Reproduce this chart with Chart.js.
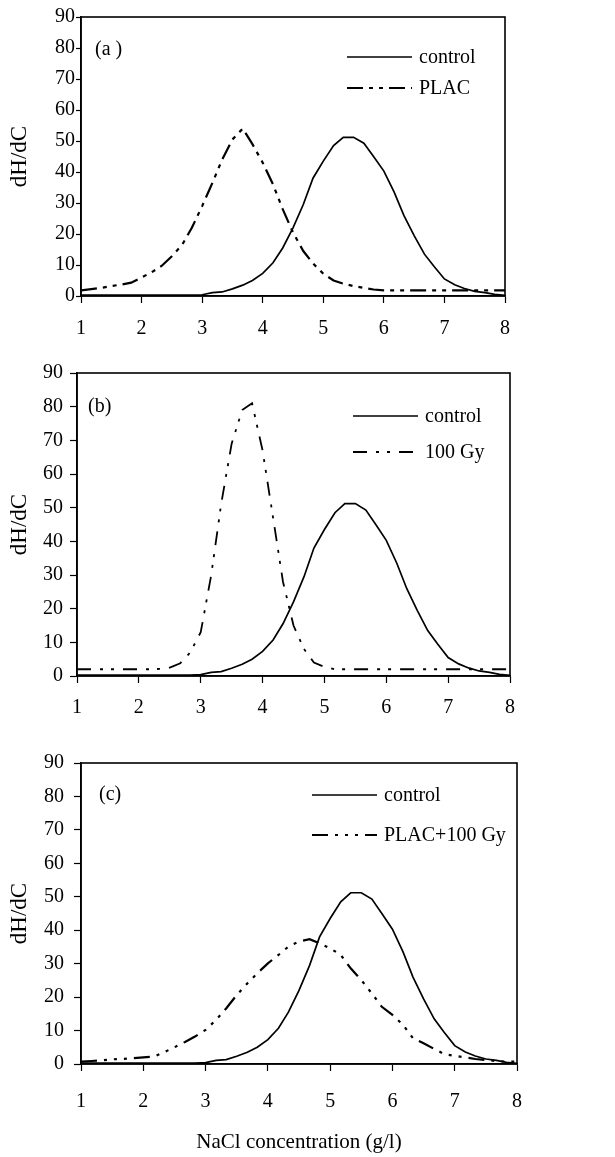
<!DOCTYPE html>
<html>
<head>
<meta charset="utf-8">
<script src="https://cdn.jsdelivr.net/npm/chart.js@4.4.0/dist/chart.umd.min.js"></script>
<style>
    html, body { margin: 0; padding: 0; background: #fff; }
    #wrap { position: relative; width: 615px; height: 1157px; }
    canvas { position: absolute; left: 0; }
</style>
</head>
<body>
<div id="wrap">
    <canvas id="chartA" width="615" height="350" style="top:0px"></canvas>
    <canvas id="chartB" width="615" height="370" style="top:350px"></canvas>
    <canvas id="chartC" width="615" height="437" style="top:720px"></canvas>
</div>
<script>
// NaCl concentration (g/l), sampled every 1/6 g/l
const concentration = [
    1.00, 1.17, 1.33, 1.50, 1.67, 1.83, 2.00, 2.17, 2.33, 2.50, 2.67, 2.83,
    3.00, 3.17, 3.33, 3.50, 3.67, 3.83, 4.00, 4.17, 4.33, 4.50, 4.67, 4.83,
    5.00, 5.17, 5.33, 5.50, 5.67, 5.83, 6.00, 6.17, 6.33, 6.50, 6.67, 6.83,
    7.00, 7.17, 7.33, 7.50, 7.67, 7.83, 8.00
];

const control = [
    0.3, 0.3, 0.3, 0.3, 0.3, 0.3, 0.3, 0.3, 0.3, 0.3, 0.3, 0.3,
    0.4, 1.1, 1.3, 2.3, 3.5, 5.0, 7.3, 10.7, 15.5, 22.0, 29.5, 38.0,
    43.5, 48.5, 51.2, 51.2, 49.3, 45.0, 40.3, 33.5, 26.0, 19.5, 13.5, 9.5,
    5.5, 3.6, 2.4, 1.5, 1.1, 0.5, 0.2
];

const plac = [
    1.8, 2.2, 2.6, 3.2, 3.7, 4.3, 6.0, 7.7, 9.7, 12.8, 16.5, 22.0,
    29.0, 36.5, 44.0, 50.5, 54.0, 49.0, 43.0, 36.0, 28.0, 20.5, 14.5, 10.5,
    7.2, 5.0, 4.0, 3.2, 2.6, 2.1, 1.8, 1.8, 1.8, 1.8, 1.8, 1.8,
    1.8, 1.8, 1.8, 1.8, 1.8, 1.8, 1.8
];

const gy100 = [
    2.0, 2.0, 2.0, 2.0, 2.0, 2.0, 2.0, 2.0, 2.1, 2.5, 3.8, 7.0,
    13.0, 30.0, 51.0, 69.0, 79.0, 81.0, 67.0, 47.0, 28.0, 15.0, 8.0, 4.0,
    2.7, 2.0, 2.0, 2.0, 2.0, 2.0, 2.0, 2.0, 2.0, 2.0, 2.0, 2.0,
    2.0, 2.0, 2.0, 2.0, 2.0, 2.0, 2.0
];

const placGy100 = [
    0.7, 0.9, 1.1, 1.4, 1.5, 1.7, 2.0, 2.2, 3.5, 5.0, 6.6, 8.2,
    10.2, 13.2, 16.6, 20.6, 24.1, 27.1, 30.1, 32.6, 35.1, 36.6, 37.3, 36.1,
    34.6, 32.6, 28.6, 25.1, 21.1, 17.1, 14.7, 11.7, 7.7, 6.2, 4.5, 3.0,
    2.4, 2.0, 1.5, 1.2, 0.9, 0.7, 0.7
];

const xTicks = [1, 2, 3, 4, 5, 6, 7, 8];
const yTicks = [0, 10, 20, 30, 40, 50, 60, 70, 80, 90];

const serif = "'Liberation Serif', 'Times New Roman', serif";

function points(values) {
    return values.map((v, i) => ({ x: concentration[i], y: v }));
}

// black frame round the plot area
const framePlugin = {
    id: 'frame',
    afterDatasetsDraw(chart) {
        const a = chart.chartArea;
        const ctx = chart.ctx;
        ctx.save();
        ctx.strokeStyle = '#000';
        ctx.lineWidth = 1.6;
        ctx.strokeRect(a.left, a.top, a.right - a.left, a.bottom - a.top);
        ctx.restore();
    }
};

// panel tag and hand-placed legend
const notePlugin = {
    id: 'notes',
    afterDraw(chart, args, opts) {
        const ctx = chart.ctx;
        ctx.save();
        ctx.fillStyle = '#000';
        ctx.font = opts.fontSize + 'px ' + serif;
        ctx.textBaseline = 'middle';
        ctx.fillText(opts.tag, opts.tagX, opts.tagY);
        chart.data.datasets.forEach((ds, i) => {
            const y = opts.legendY[i];
            ctx.beginPath();
            ctx.setLineDash(ds.borderDash || []);
            ctx.lineWidth = ds.borderWidth;
            ctx.strokeStyle = '#000';
            ctx.moveTo(opts.lineX1, y);
            ctx.lineTo(opts.lineX2, y);
            ctx.stroke();
            ctx.setLineDash([]);
            ctx.fillText(ds.label, opts.lineX2 + 7, y + 1);
        });
        ctx.restore();
    }
};

function makePanel(cfg) {
    const canvas = document.getElementById(cfg.id);
    const h = canvas.height;
    return new Chart(canvas, {
        type: 'line',
        data: {
            datasets: [
                {
                    label: 'control',
                    data: points(control),
                    borderColor: '#000',
                    borderWidth: 1.7,
                    pointRadius: 0,
                    tension: 0,
                    fill: false
                },
                {
                    label: cfg.label,
                    data: points(cfg.values),
                    borderColor: '#000',
                    borderWidth: cfg.width,
                    borderDash: cfg.dash,
                    pointRadius: 0,
                    tension: 0,
                    fill: false
                }
            ]
        },
        options: {
            responsive: false,
            animation: false,
            events: [],
            layout: {
                padding: { left: 0, top: cfg.area.top, right: 615 - cfg.area.right, bottom: 0 }
            },
            plugins: {
                legend: { display: false },
                tooltip: { enabled: false },
                notes: cfg.notes
            },
            scales: {
                x: {
                    type: 'linear',
                    min: 1,
                    max: 8,
                    afterBuildTicks: (scale) => { scale.ticks = xTicks.map((v) => ({ value: v })); },
                    afterFit: (scale) => { scale.height = h - cfg.area.bottom; },
                    grid: { drawOnChartArea: false, tickLength: 7, tickColor: '#000', tickWidth: 1.2 },
                    border: { color: '#000', width: 1.6 },
                    ticks: {
                        color: '#000',
                        padding: cfg.xPad,
                        maxRotation: 0,
                        font: { family: serif, size: cfg.tickSize }
                    },
                    title: {
                        display: !!cfg.xTitle,
                        text: cfg.xTitle || '',
                        color: '#000',
                        font: { family: serif, size: 21 },
                        padding: { top: 0, bottom: 2 }
                    }
                },
                y: {
                    min: 0,
                    max: 90,
                    afterBuildTicks: (scale) => { scale.ticks = yTicks.map((v) => ({ value: v })); },
                    afterFit: (scale) => { scale.width = cfg.area.left; },
                    grid: { drawOnChartArea: false, tickLength: cfg.yTick, tickColor: '#000', tickWidth: 1.2 },
                    border: { color: '#000', width: 1.6 },
                    ticks: {
                        color: '#000',
                        padding: cfg.yPad,
                        font: { family: serif, size: cfg.tickSize }
                    },
                    title: {
                        display: true,
                        text: 'dH/dC',
                        color: '#000',
                        font: { family: serif, size: 23 },
                        padding: { top: 6, bottom: 0 }
                    }
                }
            }
        },
        plugins: [framePlugin, notePlugin]
    });
}

makePanel({
    id: 'chartA',
    area: { left: 81, right: 505, top: 17, bottom: 296 },
    label: 'PLAC',
    values: plac,
    width: 2.2,
    dash: [16, 6, 4, 6, 4, 6],
    tickSize: 20,
    xPad: 14,
    yTick: 5,
    yPad: 1,
    notes: { tag: '(a )', tagX: 95, tagY: 50, fontSize: 20, lineX1: 347, lineX2: 412, legendY: [57, 88] }
});

makePanel({
    id: 'chartB',
    area: { left: 77, right: 510, top: 23, bottom: 326 },
    label: '100 Gy',
    values: gy100,
    width: 1.8,
    dash: [14, 9, 3, 8, 3, 9],
    tickSize: 20,
    xPad: 13,
    yTick: 7,
    yPad: 7,
    notes: { tag: '(b)', tagX: 88, tagY: 57, fontSize: 20, lineX1: 353, lineX2: 418, legendY: [66, 102] }
});

makePanel({
    id: 'chartC',
    area: { left: 81, right: 517, top: 43, bottom: 344 },
    label: 'PLAC+100 Gy',
    values: placGy100,
    width: 2.2,
    dash: [16, 7, 3, 7, 3, 7, 3, 7],
    tickSize: 20,
    xPad: 19,
    yTick: 7,
    yPad: 10,
    xTitle: 'NaCl concentration (g/l)',
    notes: { tag: '(c)', tagX: 99, tagY: 75, fontSize: 20, lineX1: 312, lineX2: 377, legendY: [75, 115] }
});
</script>
</body>
</html>
